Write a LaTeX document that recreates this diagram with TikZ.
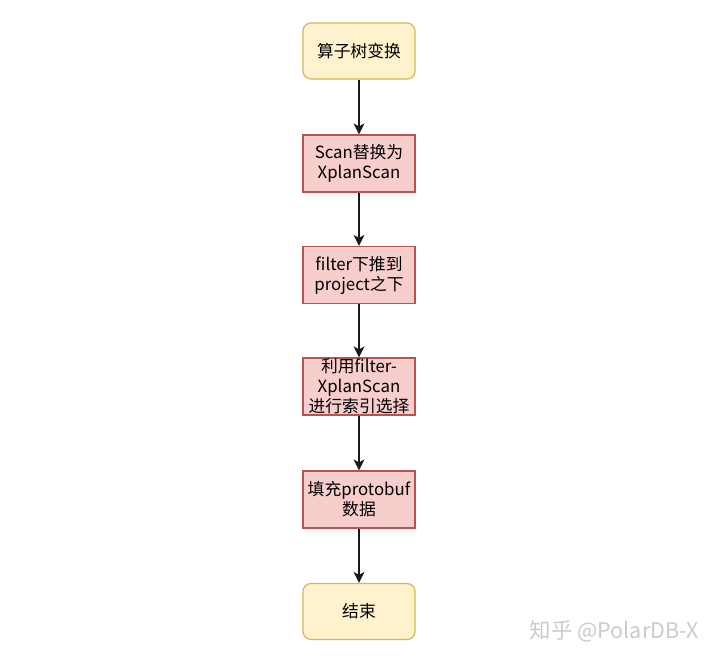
\documentclass[tikz,border=0pt]{standalone}
\usepackage{fontspec}
\setmainfont{Noto Sans CJK SC}
\usetikzlibrary{arrows.meta}
\definecolor{termFill}{HTML}{FFF2CC}
\definecolor{termLine}{HTML}{D6B656}
\definecolor{stepFill}{HTML}{F8CECC}
\definecolor{stepLine}{HTML}{B85450}
\definecolor{markGray}{HTML}{CBCBCB}

\tikzset{
  termbox/.style={draw=termLine,fill=termFill,line width=1.2pt,rounded corners=8pt,
    minimum width=112pt,minimum height=56pt,inner sep=0pt,align=center,
    font=\fontsize{16.8}{20}\selectfont},
  stepbox/.style={draw=stepLine,fill=stepFill,line width=1.2pt,
    minimum width=112pt,minimum height=57pt,inner sep=0pt,align=center,
    font=\fontsize{16.8}{20}\selectfont},
  flow/.style={-{Stealth[length=11pt,width=11pt,inset=3pt]},line width=1.3pt,black!90}
}

\begin{document}
\begin{tikzpicture}[x=1pt,y=-1pt]
  \useasboundingbox[fill=white] (0,0) rectangle (720,660);

  \node[termbox] (start) at (359,51) {算子树变换};
  \node[stepbox] (scan) at (359,163.5) {Scan替换为\\XplanScan};
  \node[stepbox] (push) at (359,275) {filter下推到\\project之下};
  \node[stepbox] (index) at (359,386.5) {利用filter-\\XplanScan\\进行索引选择};
  \node[stepbox] (proto) at (359,499.5) {填充protobuf\\数据};
  \node[termbox] (finish) at (359,611.5) {结束};

  % arrows
  \draw[flow] (start) -- (scan);
  \draw[flow] (scan) -- (push);
  \draw[flow] (push) -- (index);
  \draw[flow] (index) -- (proto);
  \draw[flow] (proto) -- (finish);

  \node[text=markGray,font=\fontsize{21.5}{24}\selectfont,anchor=east] (mark) at (702,631) {知乎 @PolarDB-X};
\end{tikzpicture}
\end{document}
